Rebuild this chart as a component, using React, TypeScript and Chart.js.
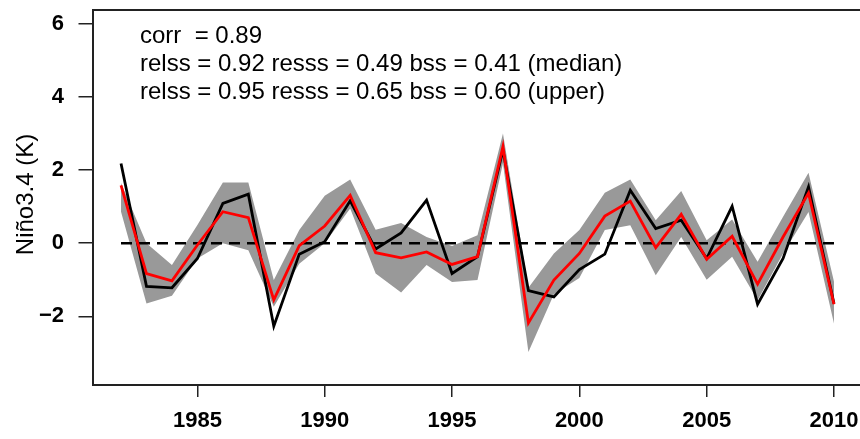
import React, { useEffect, useRef } from "react";
import { Chart, registerables } from "chart.js";

Chart.register(...registerables);

const years = [
  1982, 1983, 1984, 1985, 1986, 1987, 1988, 1989, 1990, 1991,
  1992, 1993, 1994, 1995, 1996, 1997, 1998, 1999, 2000, 2001,
  2002, 2003, 2004, 2005, 2006, 2007, 2008, 2009, 2010,
];
const observed = [
  2.18, -1.18, -1.22, -0.42, 1.09, 1.34, -2.27, -0.3, 0.04, 1.16,
  -0.16, 0.28, 1.18, -0.83, -0.37, 2.55, -1.3, -1.47, -0.72, -0.3,
  1.45, 0.4, 0.63, -0.42, 1.01, -1.67, -0.42, 1.54, -1.65,
];
const median = [
  1.58, -0.83, -1.03, -0.05, 0.86, 0.7, -1.55, -0.07, 0.47, 1.31,
  -0.26, -0.4, -0.24, -0.58, -0.37, 2.64, -2.18, -1.01, -0.28, 0.74,
  1.15, -0.12, 0.79, -0.44, 0.19, -1.12, 0.17, 1.37, -1.67,
];
const upperBand = [
  1.65, 0.0, -0.6, 0.5, 1.66, 1.66, -1.01, 0.36, 1.3, 1.74,
  0.37, 0.55, 0.17, -0.08, 0.22, 3.0, -1.22, -0.28, 0.36, 1.38,
  1.74, 0.63, 1.43, 0.08, 0.65, -0.51, 0.72, 1.93, -1.05,
];
const lowerBand = [
  0.86, -1.65, -1.44, -0.42, 0.0, -0.19, -1.74, -0.56, 0.0, 0.95,
  -0.83, -1.35, -0.6, -1.06, -1.01, 2.19, -2.98, -1.4, -0.95, 0.36,
  0.49, -0.88, 0.17, -1.0, -0.37, -1.56, -0.28, 0.85, -2.2,
];
const zeroLine = [0, 0];
const xTickValues = [1985, 1990, 1995, 2000, 2005, 2010];
const yTickValues = [-2, 0, 2, 4, 6];
const statLines = [
  "corr  = 0.89",
  "relss = 0.92 resss = 0.49 bss = 0.41 (median)",
  "relss = 0.95 resss = 0.65 bss = 0.60 (upper)",
];
const yTitle = "Niño3.4 (K)";

const FONT = "'Liberation Sans', Arial, Helvetica, sans-serif";

const toPoints = (vals: number[]) => vals.map((v, i) => ({ x: years[i], y: v }));

const decorPlugin = {
  id: "decor",
  afterDatasetsDraw(chart: any) {
    const { ctx, chartArea } = chart;
    ctx.save();
    ctx.strokeStyle = "#222";
    ctx.lineWidth = 2;
    ctx.beginPath();
    ctx.moveTo(chartArea.left, chartArea.top);
    ctx.lineTo(chartArea.right, chartArea.top);
    ctx.lineTo(chartArea.right, chartArea.bottom);
    ctx.stroke();
    ctx.restore();
  },
  afterDraw(chart: any) {
    const { ctx, chartArea } = chart;
    ctx.save();
    ctx.fillStyle = "#000";
    ctx.font = `24px ${FONT}`;
    ctx.textAlign = "left";
    ctx.textBaseline = "alphabetic";
    statLines.forEach((line, i) => {
      ctx.fillText(line, 140, 43 + i * 28);
    });
    ctx.translate(33, (chartArea.top + chartArea.bottom) / 2 - 3);
    ctx.rotate(-Math.PI / 2);
    ctx.textAlign = "center";
    ctx.textBaseline = "alphabetic";
    ctx.fillText(yTitle, 0, 0);
    ctx.restore();
  },
};

export default function App() {
  const canvasRef = useRef<HTMLCanvasElement | null>(null);

  useEffect(() => {
    const canvas = canvasRef.current;
    if (!canvas) return;
    const chart = new Chart(canvas, {
      type: "line",
      data: {
        datasets: [
          {
            label: "upper",
            data: toPoints(upperBand),
            borderWidth: 0,
            borderColor: "rgba(0,0,0,0)",
            backgroundColor: "#999999",
            pointRadius: 0,
            fill: 1,
            tension: 0,
            order: 5,
          } as any,
          {
            label: "lower",
            data: toPoints(lowerBand),
            borderWidth: 0,
            borderColor: "rgba(0,0,0,0)",
            pointRadius: 0,
            fill: false,
            tension: 0,
            order: 4,
          },
          {
            label: "zero",
            data: [
              { x: years[0], y: zeroLine[0] },
              { x: years[years.length - 1], y: zeroLine[1] },
            ],
            borderColor: "#000",
            borderWidth: 2.6,
            borderDash: [11, 7],
            pointRadius: 0,
            fill: false,
            order: 3,
          },
          {
            label: "observed",
            data: toPoints(observed),
            borderColor: "#000",
            borderWidth: 2.8,
            borderJoinStyle: "miter",
            pointRadius: 0,
            fill: false,
            tension: 0,
            order: 2,
          },
          {
            label: "median",
            data: toPoints(median),
            borderColor: "#ff0000",
            borderWidth: 2.8,
            borderJoinStyle: "miter",
            pointRadius: 0,
            fill: false,
            tension: 0,
            order: 1,
          },
        ],
      },
      options: {
        animation: false,
        responsive: false,
        devicePixelRatio: 1,
        layout: { padding: { top: 10, right: 3.5, left: 0, bottom: 0 } },
        plugins: {
          legend: { display: false },
          tooltip: { enabled: false },
        },
        scales: {
          x: {
            type: "linear",
            min: 1980.88,
            max: 2011.12,
            afterBuildTicks: (s: any) => {
              s.ticks = xTickValues.map((v) => ({ value: v }));
            },
            afterFit: (s: any) => {
              s.height = 54;
              s.paddingLeft = 0;
              s.paddingRight = 0;
            },
            ticks: {
              autoSkip: false,
              maxRotation: 0,
              minRotation: 0,
              padding: 11,
              color: "#000",
              font: { family: FONT, size: 22, weight: "bold" },
              callback: (v: any) => String(v),
            },
            grid: {
              drawOnChartArea: false,
              drawTicks: true,
              tickLength: 12,
              color: "#222",
              lineWidth: 1.5,
            },
            border: { display: true, color: "#222", width: 2 },
          },
          y: {
            type: "linear",
            min: -3.88,
            max: 6.38,
            afterBuildTicks: (s: any) => {
              s.ticks = yTickValues.map((v) => ({ value: v }));
            },
            afterFit: (s: any) => {
              s.width = 92.5;
              s.paddingTop = 0;
              s.paddingBottom = 0;
            },
            ticks: {
              padding: 14.5,
              color: "#000",
              font: { family: FONT, size: 22, weight: "bold" },
              callback: (v: any) => (v < 0 ? "\u2212" + Math.abs(v) : String(v)),
            },
            grid: {
              drawOnChartArea: false,
              drawTicks: true,
              tickLength: 14,
              color: "#222",
              lineWidth: 1.5,
            },
            border: { display: true, color: "#222", width: 2 },
          },
        },
      } as any,
      plugins: [decorPlugin],
    });
    return () => chart.destroy();
  }, []);

  return (
    <div
      style={{
        position: "absolute",
        left: 0,
        top: 0,
        width: 860,
        height: 439,
        overflow: "hidden",
        background: "#fff",
      }}
    >
      <canvas ref={canvasRef} width={866} height={439} style={{ display: "block", width: 866, height: 439 }} />
    </div>
  );
}
